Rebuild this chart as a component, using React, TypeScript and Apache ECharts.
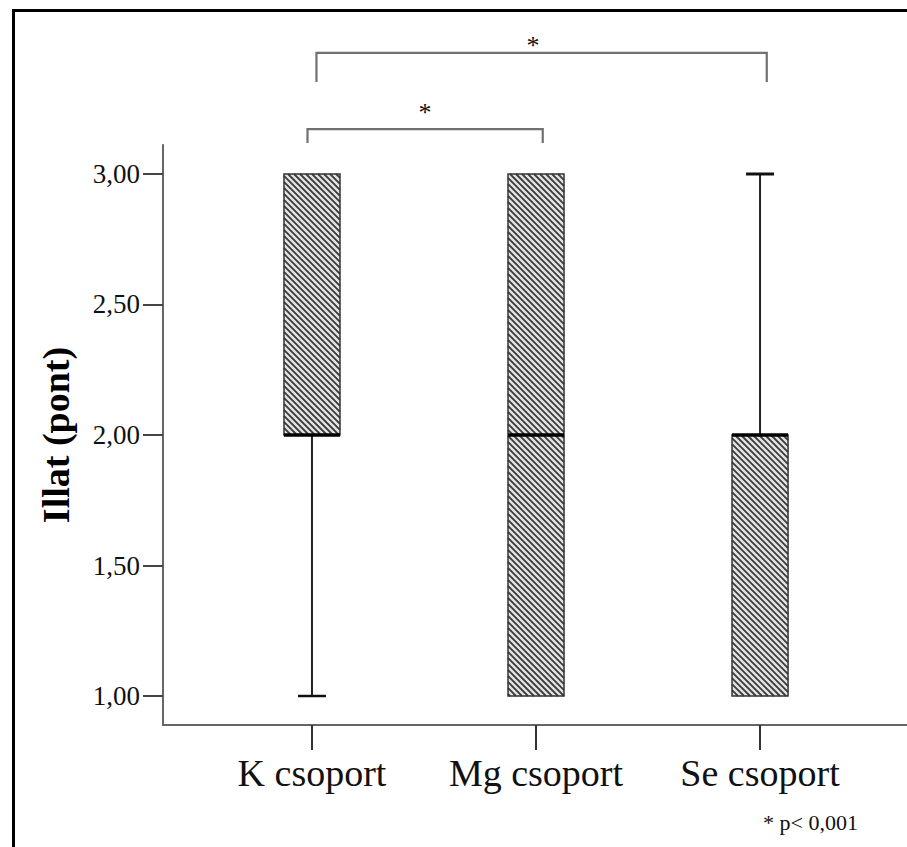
import React, { useEffect, useRef } from "react";
import * as echarts from "echarts";

// Groups and their box-plot statistics (score points)
const categories = ["K csoport", "Mg csoport", "Se csoport"];
const lowerWhisker = [1, 1, 1];
const q1 = [2, 1, 1];
const median = [2, 2, 2];
const q3 = [3, 3, 2];
const upperWhisker = [3, 3, 3];

// Y axis tick values and their labels
const yTicks = [1, 1.5, 2, 2.5, 3];
const yTickLabels = ["1,00", "1,50", "2,00", "2,50", "3,00"];

// Significance brackets: [from group pos, to group pos, bar value, leg end value]
const bracketFrom = [-0.02, 0.02];
const bracketTo = [1.03, 2.03];
const bracketTop = [3.172, 3.464];
const bracketLegEnd = [3.119, 3.352];
// Star markers above the brackets: [group pos, value]
const starPos = [0.504, 0.987];
const starValue = [3.249, 3.502];

const footnote = "* p< 0,001";
const yTitle = "Illat (pont)";

const SERIF = "'Liberation Serif', 'Times New Roman', serif";

export default function App() {
  const ref = useRef<HTMLDivElement>(null);

  useEffect(() => {
    if (!ref.current) return;
    const chart = echarts.init(ref.current, undefined, { renderer: "svg" });

    const boxData = categories.map((_, i) => [
      i,
      lowerWhisker[i],
      q1[i],
      median[i],
      q3[i],
      upperWhisker[i],
    ]);
    const bracketData = bracketFrom.map((f, i) => [
      f,
      bracketTo[i],
      bracketTop[i],
      bracketLegEnd[i],
    ]);
    const starData = starPos.map((p, i) => [p, starValue[i]]);

    const BOX_W = 0.25; // box width in x-axis units
    const CAP_W = 0.125; // whisker cap width in x-axis units
    const HATCH = 6; // horizontal hatch period in px

    const renderBox = (params: any, api: any) => {
      const x = api.value(0);
      const lo = api.value(1);
      const b1 = api.value(2);
      const md = api.value(3);
      const b3 = api.value(4);
      const hi = api.value(5);
      const half = api.size([BOX_W, 0])[0] / 2;
      const capHalf = api.size([CAP_W, 0])[0] / 2;
      const [cx, yQ1] = api.coord([x, b1]);
      const yQ3 = api.coord([x, b3])[1];
      const yMed = api.coord([x, md])[1];
      const yLo = api.coord([x, lo])[1];
      const yHi = api.coord([x, hi])[1];
      const L = cx - half;
      const R = cx + half;
      const T = Math.min(yQ1, yQ3);
      const B = Math.max(yQ1, yQ3);

      const children: any[] = [];
      children.push({
        type: "rect",
        shape: { x: L, y: T, width: R - L, height: B - T },
        style: { fill: "#e4e4e4", stroke: null },
      });
      // diagonal hatch "\" clipped to the box
      const cStart = Math.floor((L - B) / HATCH) * HATCH;
      for (let c = cStart; c <= R - T; c += HATCH) {
        const y0 = Math.max(T, L - c);
        const y1 = Math.min(B, R - c);
        if (y1 - y0 > 0.5) {
          children.push({
            type: "line",
            shape: { x1: y0 + c, y1: y0, x2: y1 + c, y2: y1 },
            style: { stroke: "#3c3c3c", lineWidth: 1.8 },
          });
        }
      }
      children.push({
        type: "rect",
        shape: { x: L, y: T, width: R - L, height: B - T },
        style: { fill: null, stroke: "#333", lineWidth: 1.5 },
      });
      // whiskers
      if (Math.abs(yLo - B) > 0.5) {
        children.push({
          type: "line",
          shape: { x1: cx, y1: B, x2: cx, y2: yLo },
          style: { stroke: "#222", lineWidth: 2 },
        });
        children.push({
          type: "line",
          shape: { x1: cx - capHalf, y1: yLo, x2: cx + capHalf, y2: yLo },
          style: { stroke: "#111", lineWidth: 2.5 },
        });
      }
      if (Math.abs(yHi - T) > 0.5) {
        children.push({
          type: "line",
          shape: { x1: cx, y1: T, x2: cx, y2: yHi },
          style: { stroke: "#222", lineWidth: 2 },
        });
        children.push({
          type: "line",
          shape: { x1: cx - capHalf, y1: yHi, x2: cx + capHalf, y2: yHi },
          style: { stroke: "#111", lineWidth: 3 },
        });
      }
      // median
      children.push({
        type: "line",
        shape: { x1: L, y1: yMed, x2: R, y2: yMed },
        style: { stroke: "#000", lineWidth: 3.5 },
      });
      return { type: "group", children };
    };

    const renderBracket = (params: any, api: any) => {
      const a = api.coord([api.value(0), api.value(2)]);
      const b = api.coord([api.value(1), api.value(2)]);
      const legY = api.coord([api.value(0), api.value(3)])[1];
      return {
        type: "polyline",
        shape: {
          points: [
            [a[0], legY],
            [a[0], a[1]],
            [b[0], b[1]],
            [b[0], legY],
          ],
        },
        style: { stroke: "#707070", lineWidth: 2.2, fill: null },
      };
    };

    const renderStar = (params: any, api: any) => {
      const p = api.coord([api.value(0), api.value(1)]);
      return {
        type: "text",
        x: p[0],
        y: p[1] + 3,
        style: {
          text: "*",
          font: `26px ${SERIF}`,
          fill: "#111",
          align: "center",
          verticalAlign: "middle",
        },
      };
    };

    chart.setOption({
      animation: false,
      backgroundColor: "#ffffff",
      grid: { left: 163, right: 0, top: 145, bottom: 122, containLabel: false },
      xAxis: {
        type: "value",
        min: -0.665,
        max: 2.656,
        splitLine: { show: false },
        axisLine: { show: true, onZero: false, lineStyle: { color: "#666", width: 2 } },
        axisTick: {
          show: true,
          length: 25,
          customValues: categories.map((_, i) => i),
          lineStyle: { color: "#333", width: 2 },
        },
        axisLabel: {
          show: true,
          customValues: categories.map((_, i) => i),
          formatter: (v: number) => categories[Math.round(v)] ?? "",
          margin: 29,
          fontFamily: SERIF,
          fontSize: 38,
          color: "#111",
        },
      },
      yAxis: {
        type: "value",
        min: 0.8889,
        max: 3.1111,
        splitLine: { show: false },
        axisLine: { show: true, onZero: false, lineStyle: { color: "#666", width: 2 } },
        axisTick: {
          show: true,
          length: 20,
          customValues: yTicks,
          lineStyle: { color: "#444", width: 2 },
        },
        axisLabel: {
          show: true,
          customValues: yTicks,
          formatter: (v: number) => {
            const i = yTicks.findIndex((t) => Math.abs(t - v) < 1e-6);
            return i >= 0 ? yTickLabels[i] : "";
          },
          margin: 23,
          fontFamily: SERIF,
          fontSize: 27,
          color: "#111",
        },
        name: yTitle,
        nameLocation: "middle",
        nameGap: 88,
        nameTextStyle: {
          fontFamily: SERIF,
          fontSize: 38,
          fontWeight: "bold",
          color: "#000",
        },
      },
      series: [
        {
          type: "custom",
          data: boxData,
          renderItem: renderBox,
          encode: { x: 0, y: [1, 2, 3, 4, 5] },
          clip: false,
          silent: true,
        },
        {
          type: "custom",
          data: bracketData,
          renderItem: renderBracket,
          encode: { x: [0, 1], y: [2, 3] },
          clip: false,
          silent: true,
        },
        {
          type: "custom",
          data: starData,
          renderItem: renderStar,
          encode: { x: 0, y: 1 },
          clip: false,
          silent: true,
        },
      ],
      graphic: [
        {
          type: "polyline",
          shape: {
            points: [
              [13.5, 847],
              [13.5, 10.5],
              [907, 10.5],
            ],
          },
          style: { stroke: "#000", lineWidth: 3, fill: null },
          silent: true,
        },
        {
          type: "text",
          x: 763,
          y: 822,
          style: {
            text: footnote,
            font: `22px ${SERIF}`,
            fill: "#111",
            align: "left",
            verticalAlign: "middle",
          },
          silent: true,
        },
      ],
    });

    return () => chart.dispose();
  }, []);

  return (
    <div
      ref={ref}
      style={{ position: "fixed", left: 0, top: 0, width: 907, height: 847, background: "#fff" }}
    />
  );
}
